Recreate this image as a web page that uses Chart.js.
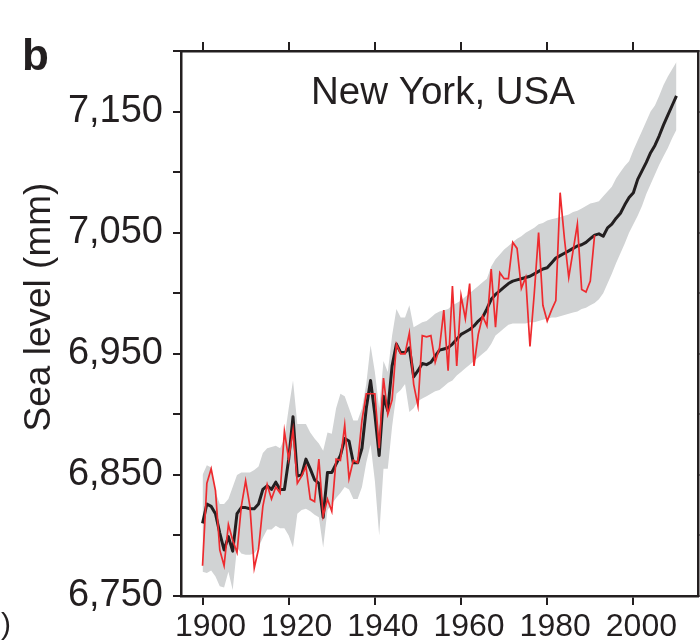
<!DOCTYPE html>
<html><head><meta charset="utf-8">
<script src="https://cdn.jsdelivr.net/npm/chart.js@4/dist/chart.umd.min.js"></script>
<style>html,body{margin:0;padding:0;background:#fff;overflow:hidden;}</style>
</head><body>
<canvas id="c" width="700" height="643"></canvas>
<script>
const years = [1900,1901,1902,1903,1904,1905,1906,1907,1908,1909,1910,1911,1912,1913,1914,1915,1916,1917,1918,1919,
1920,1921,1922,1923,1924,1925,1926,1927,1928,1929,1930,1931,1932,1933,1934,1935,1936,1937,1938,1939,
1940,1941,1942,1943,1944,1945,1946,1947,1948,1949,1950,1951,1952,1953,1954,1955,1956,1957,1958,1959,
1960,1961,1962,1963,1964,1965,1966,1967,1968,1969,1970,1971,1972,1973,1974,1975,1976,1977,1978,1979,
1980,1981,1982,1983,1984,1985,1986,1987,1988,1989,1990,1991,1992,1993,1994,1995,1996,1997,1998,1999,
2000,2001,2002,2003,2004,2005,2006,2007,2008,2009,2010];

// Tide-gauge record (red), 1900-1991
const tideGauge = [6775,6843,6855,6837,6788,6775,6809,6796,6786,6824,6845,6824,6773,6789,6824,6842,6830,6840,6835,6886,
6863,6887,6843,6849,6857,6830,6828,6863,6816,6830,6820,6863,6862,6891,6847,6862,6860,6895,6917,6917,
6917,6872,6930,6900,6912,6958,6950,6950,6967,6925,6907,6965,6964,6965,6943,6955,6986,6936,7006,6940,
6998,6979,7008,6940,6966,6981,6973,7020,6972,7017,7012,7012,7042,7037,7004,7013,6956,7000,7050,6990,
6977,6986,6994,7083,7045,7013,7035,7057,7003,7001,7010,7048];

// Reconstruction (black), 1900-2010
const reconstruction = [6810,6826,6824,6818,6802,6788,6799,6787,6818,6823,6823,6822,6822,6826,6838,6841,6838,6844,6838,6838,
6863,6898,6849,6850,6863,6855,6846,6843,6815,6852,6852,6859,6866,6880,6878,6860,6860,6872,6905,6928,
6900,6866,6915,6903,6940,6958,6951,6951,6955,6931,6936,6942,6941,6943,6948,6953,6954,6955,6958,6962,
6966,6968,6970,6973,6977,6980,6987,6995,6999,7002,7005,7008,7010,7011,7012,7013,7014,7016,7018,7020,
7021,7025,7029,7031,7033,7035,7037,7039,7040,7042,7045,7048,7049,7047,7054,7057,7062,7066,7073,7079,
7083,7094,7101,7108,7116,7122,7130,7139,7147,7155,7163];

// Uncertainty band, upper and lower bounds, 1900-2010
const upperBound = [6850,6858,6856,6836,6826,6826,6830,6840,6850,6852,6852,6852,6854,6857,6868,6872,6873,6874,6872,6880,
6905,6928,6892,6892,6892,6885,6880,6876,6870,6885,6884,6905,6917,6915,6905,6895,6895,6905,6925,6957,
6935,6905,6944,6935,6965,6987,6980,6980,6990,6972,6974,6976,6977,6980,6983,6985,6986,6987,6990,6992,
6994,6997,7000,7003,7006,7009,7012,7022,7028,7032,7036,7039,7042,7045,7047,7050,7052,7054,7057,7058,
7060,7061,7062,7063,7064,7065,7067,7068,7070,7072,7074,7075,7076,7080,7084,7088,7095,7100,7105,7109,
7118,7126,7134,7142,7150,7155,7163,7172,7179,7185,7191];
const lowerBound = [6770,6769,6771,6766,6758,6757,6770,6755,6790,6785,6784,6784,6785,6790,6798,6805,6805,6808,6806,6806,
6800,6790,6818,6821,6822,6820,6817,6815,6790,6821,6826,6831,6835,6840,6838,6830,6830,6840,6860,6875,
6845,6800,6855,6855,6890,6917,6920,6925,6902,6905,6911,6913,6915,6917,6919,6920,6923,6926,6928,6932,
6935,6938,6941,6944,6947,6950,6953,6958,6965,6968,6971,6974,6975,6975,6975,6975,6976,6976,6977,6978,
6979,6980,6980,6981,6982,6983,6984,6985,6987,6988,6990,6992,6995,7000,7008,7016,7025,7033,7041,7050,
7057,7064,7072,7082,7090,7098,7106,7113,7120,7128,7135];

const xTickValues = [1900,1920,1940,1960,1980,2000];
const yTickValues = [6750,6800,6850,6900,6950,7000,7050,7100,7150,7200];
const yLabelValues = [6750,6850,6950,7050,7150];
const panelLetter = 'b';
const panelTitle = 'New York, USA';
const yTitle = 'Sea level (mm)';

const FONT = "'Liberation Sans', Arial, Helvetica, sans-serif";
const INK = '#231f20';

function pts(vals){ const out=[]; for(let i=0;i<vals.length;i++){ out.push({x:years[i], y:vals[i]}); } return out; }

const textPlugin = {
  id:'texts',
  afterDraw(chart){
    const ctx = chart.ctx;
    ctx.save();
    ctx.fillStyle = INK;
    ctx.textBaseline = 'alphabetic';
    ctx.textAlign = 'left';
    ctx.font = 'bold 44px ' + FONT;
    ctx.fillText(panelLetter, 22, 70);
    ctx.font = '30px ' + FONT;
    ctx.fillText(')', 1, 634);
    ctx.textAlign = 'center';
    ctx.font = '38.5px ' + FONT;
    ctx.fillText(panelTitle, 443, 104);
    ctx.translate(50, 307);
    ctx.rotate(-Math.PI/2);
    ctx.font = '37px ' + FONT;
    ctx.fillText(yTitle, 0, 0);
    ctx.restore();
  }
};

const gridOpts = (len) => ({drawOnChartArea:false, drawTicks:true, tickLength:len, color:INK, lineWidth:2});
const borderOpts = {display:true, color:INK, width:2.5};

new Chart(document.getElementById('c'), {
  type:'line',
  data:{ datasets:[
    {label:'upper', data:pts(upperBound), borderWidth:0, pointRadius:0, fill:'+1', backgroundColor:'#d1d3d4', order:5, tension:0},
    {label:'lower', data:pts(lowerBound), borderWidth:0, pointRadius:0, fill:false, order:4, tension:0},
    {label:'reconstruction', data:pts(reconstruction), borderColor:INK, borderWidth:3, pointRadius:0, fill:false, order:2, tension:0, borderJoinStyle:'round'},
    {label:'tide gauge', data:pts(tideGauge), borderColor:'#ee2a2e', borderWidth:1.7, pointRadius:0, fill:false, order:1, tension:0}
  ]},
  options:{
    responsive:false, animation:false, devicePixelRatio:1,
    layout:{padding:0},
    plugins:{legend:{display:false}, tooltip:{enabled:false}},
    scales:{
      x:{type:'linear', position:'bottom', min:1895, max:2015,
        afterBuildTicks:s=>{ s.ticks = xTickValues.map(v=>({value:v})); },
        afterFit:s=>{ s.height = 47; },
        grid:gridOpts(9), border:borderOpts,
        ticks:{font:{family:FONT,size:32}, color:INK, padding:3, labelOffset:8, maxRotation:0, autoSkip:false, callback:v=>String(v)}
      },
      x2:{type:'linear', position:'top', min:1895, max:2015,
        afterBuildTicks:s=>{ s.ticks = xTickValues.map(v=>({value:v})); },
        afterFit:s=>{ s.height = 51; },
        grid:gridOpts(9), border:borderOpts,
        ticks:{display:false}
      },
      y:{type:'linear', position:'left', min:6750, max:7200,
        afterBuildTicks:s=>{ s.ticks = yTickValues.map(v=>({value:v})); },
        afterFit:s=>{ s.width = 181; },
        grid:gridOpts(8), border:borderOpts,
        ticks:{font:{family:FONT,size:38}, color:INK, padding:10, autoSkip:false,
          callback:v=> yLabelValues.includes(v) ? v.toLocaleString('en-US') : ''}
      },
      y2:{type:'linear', position:'right', min:6750, max:7200,
        afterBuildTicks:s=>{ s.ticks = yTickValues.map(v=>({value:v})); },
        afterFit:s=>{ s.width = 2; },
        grid:gridOpts(8), border:borderOpts,
        ticks:{display:false}
      }
    }
  },
  plugins:[textPlugin]
});
</script>
</body></html>
